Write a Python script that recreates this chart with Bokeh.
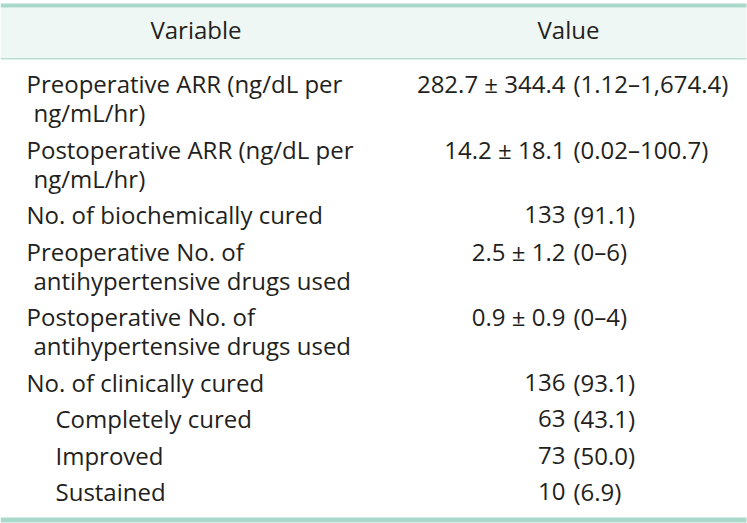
from bokeh.plotting import figure
from bokeh.models import Range1d
from bokeh.core.properties import value
from bokeh.embed import file_html
from bokeh.resources import INLINE

# ---- data ----
header_labels = ["Variable", "Value"]
variable_lines = [
    ["Preoperative ARR (ng/dL per", "ng/mL/hr)"],
    ["Postoperative ARR (ng/dL per", "ng/mL/hr)"],
    ["No. of biochemically cured"],
    ["Preoperative No. of", "antihypertensive drugs used"],
    ["Postoperative No. of", "antihypertensive drugs used"],
    ["No. of clinically cured"],
    ["Completely cured"],
    ["Improved"],
    ["Sustained"],
]
indent_level = [0, 0, 0, 0, 0, 0, 1, 1, 1]
values = [
    "282.7 ± 344.4 (1.12–1,674.4)",
    "14.2 ± 18.1 (0.02–100.7)",
    "133 (91.1)",
    "2.5 ± 1.2 (0–6)",
    "0.9 ± 0.9 (0–4)",
    "136 (93.1)",
    "63 (43.1)",
    "73 (50.0)",
    "10 (6.9)",
]

# ---- layout / style ----
FONT = value("Open Sans")
FS = "24px"
TXT = "#231f20"
BORDER = "#a9d9ca"
HEAD_BG = "#eef7f4"
RULE = "#b7dfd2"
SHIFT = -11  # compensate renderer baseline offset

W, H = 747, 523
p = figure(width=W, height=H, output_backend="svg", toolbar_location=None,
           x_range=Range1d(0, W), y_range=Range1d(H, 0),
           min_border=0, min_border_left=0, min_border_right=0,
           min_border_top=0, min_border_bottom=0)
p.xaxis.visible = False
p.yaxis.visible = False
p.xgrid.visible = False
p.ygrid.visible = False
p.outline_line_color = None
p.background_fill_color = "white"
p.border_fill_color = "white"

LEFT, RIGHT = 0, 746
# header background and rules
p.quad(left=[LEFT], right=[RIGHT], top=[7], bottom=[57.5], fill_color=HEAD_BG, line_color=None)
p.quad(left=[LEFT], right=[RIGHT], top=[3], bottom=[7], fill_color=BORDER, line_color=None)
p.quad(left=[LEFT], right=[RIGHT], top=[57.5], bottom=[59], fill_color=RULE, line_color=None)
p.quad(left=[LEFT], right=[RIGHT], top=[517], bottom=[522], fill_color=BORDER, line_color=None)

# header text
p.text(x=[195.5, 568], y=[40 + SHIFT, 40 + SHIFT], text=header_labels, text_align="center",
       text_baseline="alphabetic", text_font=FONT, text_font_size=FS, text_color=TXT)

# body rows
B0, LINE_H, ROW_GAP = 94, 29, 36.5
COL1_X, INDENT, CONT = 26, 29, 7
PAREN_X, GAP = 573, 8

vx, vy, vt = [], [], []
px_, py_, pt_ = [], [], []
qx_, qy_, qt_ = [], [], []
y = B0
for i, lines in enumerate(variable_lines):
    first_y = y
    for j, ln in enumerate(lines):
        if j > 0:
            y += LINE_H
        vx.append(COL1_X + INDENT * indent_level[i] + (CONT if j > 0 else 0))
        vy.append(y + SHIFT)
        vt.append(ln)
    v = values[i]
    k = v.index("(")
    px_.append(PAREN_X - GAP); py_.append(first_y + SHIFT); pt_.append(v[:k].rstrip())
    qx_.append(PAREN_X); qy_.append(first_y + SHIFT); qt_.append(v[k:])
    y += ROW_GAP

p.text(x=vx, y=vy, text=vt, text_align="left", text_baseline="alphabetic",
       text_font=FONT, text_font_size=FS, text_color=TXT)
p.text(x=px_, y=py_, text=pt_, text_align="right", text_baseline="alphabetic",
       text_font=FONT, text_font_size=FS, text_color=TXT)
p.text(x=qx_, y=qy_, text=qt_, text_align="left", text_baseline="alphabetic",
       text_font=FONT, text_font_size=FS, text_color=TXT)

open("out.html", "w").write(file_html(p, INLINE))
